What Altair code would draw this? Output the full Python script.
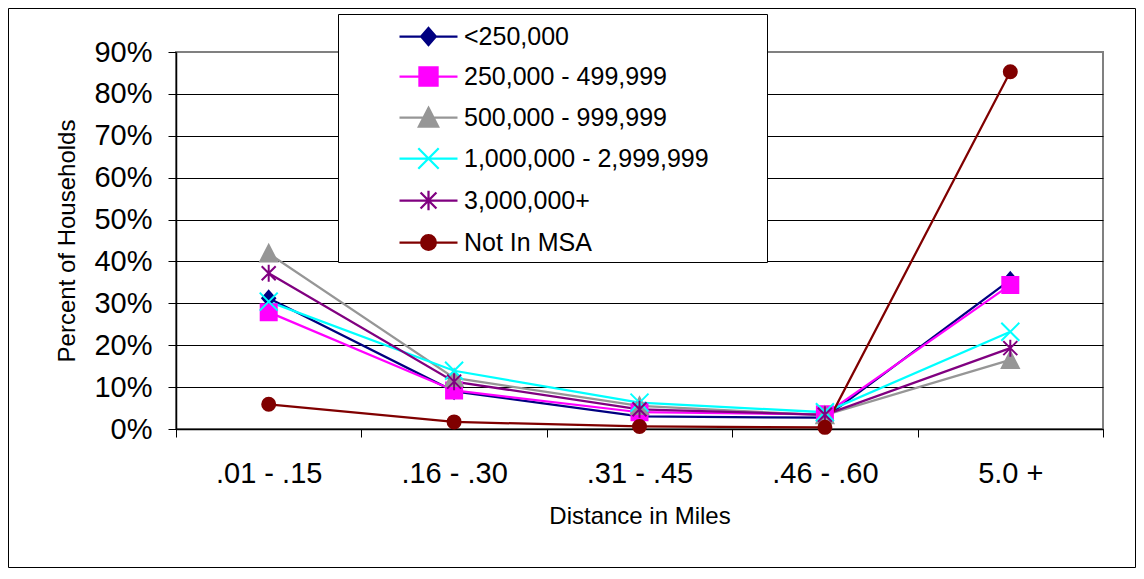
import altair as alt
import pandas as pd

# ---------------- data ----------------
categories = [".01 - .15", ".16 - .30", ".31 - .45", ".46 - .60", "5.0 +"]
series_names = ["<250,000", "250,000 - 499,999", "500,000 - 999,999",
                "1,000,000 - 2,999,999", "3,000,000+", "Not In MSA"]
lt_250k = [0.312, 0.090, 0.030, 0.027, 0.356]
r_250k_500k = [0.279, 0.092, 0.040, 0.035, 0.344]
r_500k_1m = [0.419, 0.122, 0.055, 0.033, 0.165]
r_1m_3m = [0.304, 0.139, 0.063, 0.040, 0.232]
r_3m_plus = [0.372, 0.113, 0.047, 0.034, 0.193]
not_in_msa = [0.059, 0.017, 0.006, 0.004, 0.853]
y_ticks = [0.0, 0.1, 0.2, 0.3, 0.4, 0.5, 0.6, 0.7, 0.8, 0.9]

series_values = [lt_250k, r_250k_500k, r_500k_1m, r_1m_3m, r_3m_plus, not_in_msa]
rows = []
for s_i, (name, vals) in enumerate(zip(series_names, series_values)):
    for c_i, v in enumerate(vals):
        rows.append({"series": name, "s": s_i, "xi": c_i, "cat": categories[c_i], "value": v})
df = pd.DataFrame(rows)

# ---------------- styles ----------------
colors = ["#000080", "#FF00FF", "#969696", "#00FFFF", "#800080", "#800000"]
FONT = "Liberation Sans"


def poly(pts, f):
    return "M" + "L".join(f"{x / f:.4f},{y / f:.4f}" for x, y in pts) + "Z"


def segs(lines, f):
    return "".join(f"M{a / f:.4f},{b / f:.4f}L{c / f:.4f},{d / f:.4f}" for a, b, c, d in lines)


def circ(r, f):
    r = r / f
    return f"M{-r:.4f},0A{r:.4f},{r:.4f} 0 1,0 {r:.4f},0A{r:.4f},{r:.4f} 0 1,0 {-r:.4f},0Z"


def marker_paths(f):
    return [
        poly([(0, -7.5), (6.5, 0), (0, 7.5), (-6.5, 0)], f),
        poly([(-8, -8), (8, -8), (8, 8), (-8, 8)], f),
        poly([(0, -8.5), (8.5, 8), (-8.5, 8)], f),
        segs([(-9, -9, 9, 9), (-9, 9, 9, -9)], f),
        segs([(-7, -7, 7, 7), (-7, 7, 7, -7), (0, -8.5, 0, 8.5)], f),
        circ(6.5, f),
    ]


PLOT_SIZE = 400          # scale factor sqrt(400)/2 = 10 px per unit
LEG_SIZE = 841           # scale factor 14.5 px per unit
plot_paths = marker_paths(10.0)
legend_paths = ["M-2,0L2,0" + p for p in marker_paths(12.8)]

W, H = 927, 377
PAD = {"left": 168, "top": 44, "right": 33, "bottom": 140}

x_enc = alt.X(
    "xi:Q",
    scale=alt.Scale(domain=[-0.5, 4.5], nice=False, zero=False),
    axis=alt.Axis(
        title="Distance in Miles",
        values=[-0.5, 0, 0.5, 1, 1.5, 2, 2.5, 3, 3.5, 4, 4.5],
        labelExpr=" : ".join(f"datum.value === {i} ? '{c}'" for i, c in enumerate(categories)) + " : ''",
        tickOpacity={"condition": {"test": "datum.value % 1 === 0", "value": 0}, "value": 1},
        grid=False,
        labelOverlap=False,
        labelFlush=False,
        labelFontSize=29,
        labelPadding=22,
        tickSize=8,
        titleFontSize=24,
        titlePadding=16,
    ),
)
y_enc = alt.Y(
    "value:Q",
    scale=alt.Scale(domain=[0, 0.9], nice=False, zero=True),
    axis=alt.Axis(
        title="Percent of Households",
        values=y_ticks,
        format=".0%",
        grid=True,
        gridColor={"condition": {"test": "datum.value > 0.85", "value": "#808080"}, "value": "#000000"},
        labelFontSize=29,
        labelPadding=16,
        tickSize=8,
        titleFontSize=24,
        titlePadding=14,
    ),
)

color_scale = alt.Scale(domain=series_names, range=colors)
legend = alt.Legend(
    title=None, orient="none", legendX=236.5, legendY=-31.5,
    labelFontSize=25, labelFont=FONT, labelColor="#000000", labelLimit=600,
    symbolSize=LEG_SIZE, symbolStrokeWidth=2.25, rowPadding=11, padding=0,
    labelOffset=19.5, symbolOffset=0,
)

base = alt.Chart(df)

frame = alt.Chart(pd.DataFrame({"a": [0]})).mark_rect(
    fillOpacity=0, stroke="#000000", strokeWidth=1
).encode(
    x=alt.value(-167.5), x2=alt.value(959.5), y=alt.value(-43.5), y2=alt.value(515.5)
)

lines = base.mark_line(strokeWidth=2.25).encode(
    x=x_enc, y=y_enc,
    color=alt.Color("series:N", scale=color_scale, legend=None),
    detail="series:N",
    order="xi:Q",
)

points = base.mark_point(filled=False, strokeWidth=2, size=PLOT_SIZE, opacity=1).encode(
    x=x_enc, y=y_enc,
    color=alt.Color("series:N", scale=color_scale, legend=None),
    fill=alt.Fill("series:N", scale=color_scale, legend=None),
    shape=alt.Shape("series:N", scale=alt.Scale(domain=series_names, range=plot_paths), legend=None),
)

legend_box = alt.Chart(pd.DataFrame({"a": [0]})).mark_rect(
    fill="#FFFFFF", stroke="#000000", strokeWidth=1
).encode(
    x=alt.value(162.5), x2=alt.value(591.5), y=alt.value(-37.5), y2=alt.value(210.5)
)

legend_layer = base.transform_filter("false").mark_point(filled=False, strokeWidth=2.25, opacity=1).encode(
    x=x_enc, y=y_enc,
    color=alt.Color("series:N", scale=color_scale, legend=legend),
    fill=alt.Fill("series:N", scale=color_scale, legend=legend),
    shape=alt.Shape("series:N", scale=alt.Scale(domain=series_names, range=legend_paths), legend=legend),
)

chart = alt.layer(frame, lines, points, legend_box, legend_layer).resolve_scale(
    color="independent", fill="independent", shape="independent"
).properties(
    width=W, height=H,
    autosize=alt.AutoSizeParams(type="none"),
    padding=PAD,
    background="#FFFFFF",
).configure_view(
    stroke="#808080", strokeWidth=2
).configure_axis(
    labelFont=FONT, titleFont=FONT, labelColor="#000000", titleColor="#000000",
    titleFontWeight="normal", domainColor="#000000", domainWidth=1.5,
    tickColor="#000000", tickWidth=1, gridWidth=1,
)

chart.save("out.html", embed_options={"renderer": "svg", "actions": False})
